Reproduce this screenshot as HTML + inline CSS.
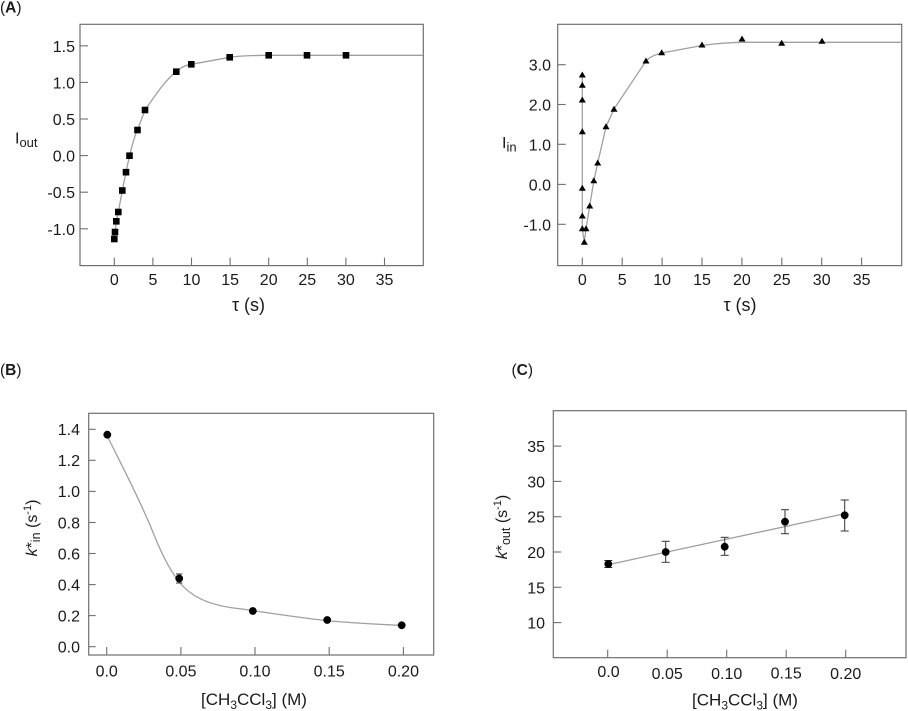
<!DOCTYPE html>
<html>
<head>
<meta charset="utf-8">
<style>
html,body{margin:0;padding:0;background:#fff;}
svg{display:block;}
text{font-family:"Liberation Sans",Arial,sans-serif;fill:#1a1a1a;}
.ax{fill:none;stroke:#6f6f6f;stroke-width:1.2;}
.tk{stroke:#6f6f6f;stroke-width:1.1;}
.fit{fill:none;stroke:#a0a0a0;stroke-width:1.3;}
.eb{stroke:#333;stroke-width:1;fill:none;}
</style>
</head>
<body>
<svg width="908" height="711" viewBox="0 0 908 711" xmlns="http://www.w3.org/2000/svg">

<!-- Panel labels -->
<text x="0" y="12.5" font-size="15.5">(<tspan font-weight="bold">A</tspan>)</text>
<text x="0" y="375" font-size="15.5">(<tspan font-weight="bold">B</tspan>)</text>
<text x="511.5" y="375" font-size="15.5">(<tspan font-weight="bold">C</tspan>)</text>

<!-- ================= Panel A left ================= -->
<rect class="ax" x="80" y="24.3" width="343.3" height="241.3"/>
<g class="tk">
  <line x1="80" y1="45.8" x2="88" y2="45.8"/>
  <line x1="80" y1="82.4" x2="88" y2="82.4"/>
  <line x1="80" y1="119" x2="88" y2="119"/>
  <line x1="80" y1="155.6" x2="88" y2="155.6"/>
  <line x1="80" y1="192.2" x2="88" y2="192.2"/>
  <line x1="80" y1="228.8" x2="88" y2="228.8"/>
  <line x1="114.3" y1="265.6" x2="114.3" y2="257.6"/>
  <line x1="152.9" y1="265.6" x2="152.9" y2="257.6"/>
  <line x1="191.5" y1="265.6" x2="191.5" y2="257.6"/>
  <line x1="230.1" y1="265.6" x2="230.1" y2="257.6"/>
  <line x1="268.7" y1="265.6" x2="268.7" y2="257.6"/>
  <line x1="307.3" y1="265.6" x2="307.3" y2="257.6"/>
  <line x1="345.9" y1="265.6" x2="345.9" y2="257.6"/>
  <line x1="384.5" y1="265.6" x2="384.5" y2="257.6"/>
</g>
<g font-size="16" text-anchor="end">
  <text x="75" y="51.8">1.5</text>
  <text x="75" y="88.4">1.0</text>
  <text x="75" y="125">0.5</text>
  <text x="75" y="161.6">0.0</text>
  <text x="75" y="198.2">-0.5</text>
  <text x="75" y="234.8">-1.0</text>
</g>
<g font-size="16" text-anchor="middle">
  <text x="114.3" y="285">0</text>
  <text x="152.9" y="285">5</text>
  <text x="191.5" y="285">10</text>
  <text x="230.1" y="285">15</text>
  <text x="268.7" y="285">20</text>
  <text x="307.3" y="285">25</text>
  <text x="345.9" y="285">30</text>
  <text x="384.5" y="285">35</text>
</g>
<text x="248.5" y="311" font-size="18" text-anchor="middle">τ (s)</text>
<text x="15" y="143.5" font-size="16">I<tspan dy="3.5" font-size="13">out</tspan></text>

<path class="fit" d="M114.3,239 L115,232 L116.3,221 L118.3,212 L122.3,190.5 L126,172 L129.5,156 C132,146 134,137 137.5,130 L145,110 C155,96 165,80 176.3,71.7 C181,67 186,65 191.3,64.3 L229.7,57.3 C240,56 250,55.5 265,55.3 L423,55.3"/>
<g fill="#000">
  <rect x="111" y="235.7" width="6.6" height="6.6"/>
  <rect x="111.7" y="228.7" width="6.6" height="6.6"/>
  <rect x="113" y="218" width="6.6" height="6.6"/>
  <rect x="115" y="208.7" width="6.6" height="6.6"/>
  <rect x="119" y="187.2" width="6.6" height="6.6"/>
  <rect x="122.7" y="168.9" width="6.6" height="6.6"/>
  <rect x="126.2" y="152.4" width="6.6" height="6.6"/>
  <rect x="134.2" y="126.7" width="6.6" height="6.6"/>
  <rect x="141.7" y="106.7" width="6.6" height="6.6"/>
  <rect x="173" y="68.4" width="6.6" height="6.6"/>
  <rect x="188" y="61" width="6.6" height="6.6"/>
  <rect x="226.4" y="54" width="6.6" height="6.6"/>
  <rect x="265.4" y="52" width="6.6" height="6.6"/>
  <rect x="303.7" y="52" width="6.6" height="6.6"/>
  <rect x="342.7" y="52" width="6.6" height="6.6"/>
</g>

<!-- ================= Panel A right ================= -->
<rect class="ax" x="557.7" y="24.3" width="344" height="241.3"/>
<g class="tk">
  <line x1="557.7" y1="64.7" x2="565.7" y2="64.7"/>
  <line x1="557.7" y1="104.5" x2="565.7" y2="104.5"/>
  <line x1="557.7" y1="144.3" x2="565.7" y2="144.3"/>
  <line x1="557.7" y1="184.4" x2="565.7" y2="184.4"/>
  <line x1="557.7" y1="224.3" x2="565.7" y2="224.3"/>
  <line x1="582.3" y1="265.6" x2="582.3" y2="257.6"/>
  <line x1="622.2" y1="265.6" x2="622.2" y2="257.6"/>
  <line x1="662.1" y1="265.6" x2="662.1" y2="257.6"/>
  <line x1="702" y1="265.6" x2="702" y2="257.6"/>
  <line x1="741.9" y1="265.6" x2="741.9" y2="257.6"/>
  <line x1="781.8" y1="265.6" x2="781.8" y2="257.6"/>
  <line x1="821.7" y1="265.6" x2="821.7" y2="257.6"/>
  <line x1="861.6" y1="265.6" x2="861.6" y2="257.6"/>
</g>
<g font-size="16" text-anchor="end">
  <text x="551" y="70.7">3.0</text>
  <text x="551" y="110.5">2.0</text>
  <text x="551" y="150.3">1.0</text>
  <text x="551" y="190.4">0.0</text>
  <text x="551" y="230.3">-1.0</text>
</g>
<g font-size="16" text-anchor="middle">
  <text x="582.3" y="285">0</text>
  <text x="622.2" y="285">5</text>
  <text x="662.1" y="285">10</text>
  <text x="702" y="285">15</text>
  <text x="741.9" y="285">20</text>
  <text x="781.8" y="285">25</text>
  <text x="821.7" y="285">30</text>
  <text x="861.6" y="285">35</text>
</g>
<text x="740" y="311" font-size="18" text-anchor="middle">τ (s)</text>
<text x="502" y="148" font-size="16">I<tspan dy="3.5" font-size="13">in</tspan></text>

<path class="fit" d="M582.3,75 L582.3,229 L584.3,242 L586,229 L589.7,206 L593.8,181 L597.7,163 L606,127 L614,109 L646,61 C649,58 652,55.5 661.7,53 L702,45.5 C712,44 725,42.6 742,42.3 L901.7,42.3"/>
<g fill="#000">
  <polygon points="582.3,71.5 578.8,77.5 585.8,77.5"/>
  <polygon points="582.3,81.8 578.8,87.8 585.8,87.8"/>
  <polygon points="582.3,96.5 578.8,102.5 585.8,102.5"/>
  <polygon points="582.3,128.2 578.8,134.2 585.8,134.2"/>
  <polygon points="582.3,184.8 578.8,190.8 585.8,190.8"/>
  <polygon points="582.3,212.5 578.8,218.5 585.8,218.5"/>
  <polygon points="582.3,225.2 578.8,231.2 585.8,231.2"/>
  <polygon points="586,225.2 582.5,231.2 589.5,231.2"/>
  <polygon points="584.3,238.7 580.8,244.7 587.8,244.7"/>
  <polygon points="589.7,202.5 586.2,208.5 593.2,208.5"/>
  <polygon points="593.8,177.2 590.3,183.2 597.3,183.2"/>
  <polygon points="597.7,159.5 594.2,165.5 601.2,165.5"/>
  <polygon points="606,123.2 602.5,129.2 609.5,129.2"/>
  <polygon points="614,105.8 610.5,111.8 617.5,111.8"/>
  <polygon points="646,57.5 642.5,63.5 649.5,63.5"/>
  <polygon points="661.7,49.2 658.2,55.2 665.2,55.2"/>
  <polygon points="702,41.5 698.5,47.5 705.5,47.5"/>
  <polygon points="742,35.5 738.5,41.5 745.5,41.5"/>
  <polygon points="781.7,39.8 778.2,45.8 785.2,45.8"/>
  <polygon points="822,37.8 818.5,43.8 825.5,43.8"/>
</g>

<!-- ================= Panel B ================= -->
<rect class="ax" x="88.7" y="413.3" width="345" height="241.7"/>
<g class="tk">
  <line x1="88.7" y1="646.7" x2="95.7" y2="646.7"/>
  <line x1="88.7" y1="615.6" x2="95.7" y2="615.6"/>
  <line x1="88.7" y1="584.6" x2="95.7" y2="584.6"/>
  <line x1="88.7" y1="553.5" x2="95.7" y2="553.5"/>
  <line x1="88.7" y1="522.5" x2="95.7" y2="522.5"/>
  <line x1="88.7" y1="491.4" x2="95.7" y2="491.4"/>
  <line x1="88.7" y1="460.3" x2="95.7" y2="460.3"/>
  <line x1="88.7" y1="429.3" x2="95.7" y2="429.3"/>
  <line x1="106.7" y1="655" x2="106.7" y2="647"/>
  <line x1="180.9" y1="655" x2="180.9" y2="647"/>
  <line x1="255" y1="655" x2="255" y2="647"/>
  <line x1="329.2" y1="655" x2="329.2" y2="647"/>
  <line x1="403.4" y1="655" x2="403.4" y2="647"/>
</g>
<g font-size="16" text-anchor="end">
  <text x="80" y="652.5">0.0</text>
  <text x="80" y="621.4">0.2</text>
  <text x="80" y="590.4">0.4</text>
  <text x="80" y="559.3">0.6</text>
  <text x="80" y="528.3">0.8</text>
  <text x="80" y="497.2">1.0</text>
  <text x="80" y="466.1">1.2</text>
  <text x="80" y="435.1">1.4</text>
</g>
<g font-size="16" text-anchor="middle">
  <text x="106.7" y="676.5">0.0</text>
  <text x="180.9" y="676.5">0.05</text>
  <text x="255" y="676.5">0.10</text>
  <text x="329.2" y="676.5">0.15</text>
  <text x="403.4" y="676.5">0.20</text>
</g>
<text x="254" y="705" font-size="17" text-anchor="middle">[CH<tspan dy="4" font-size="12">3</tspan><tspan dy="-4">CCl</tspan><tspan dy="4" font-size="12">3</tspan><tspan dy="-4">] (M)</tspan></text>
<text transform="translate(37,528) rotate(-90)" font-size="16" text-anchor="middle"><tspan font-style="italic">k</tspan>*<tspan dy="3" font-size="12.5">in</tspan><tspan dy="-3"> (s</tspan><tspan dy="-6" font-size="11">-1</tspan><tspan dy="6">)</tspan></text>

<path class="fit" d="M107.3,436 C120,462 135,490 150,525 C160,550 168,568 180,583 C192,597 208,604 230,607.5 C245,609.5 250,610 262,612 C290,616 310,619 330,621 C360,623.5 385,624.5 401.7,625.5"/>
<g class="eb">
  <line x1="179.2" y1="574" x2="179.2" y2="583"/>
  <line x1="176" y1="574" x2="182.4" y2="574"/>
  <line x1="176" y1="583" x2="182.4" y2="583"/>
</g>
<g fill="#000">
  <circle cx="107.3" cy="434.7" r="3.9"/>
  <circle cx="179.2" cy="578.5" r="3.9"/>
  <circle cx="252.8" cy="611" r="3.9"/>
  <circle cx="327.2" cy="620" r="3.9"/>
  <circle cx="401.7" cy="625.3" r="3.9"/>
</g>

<!-- ================= Panel C ================= -->
<rect class="ax" x="553.3" y="410.7" width="352.7" height="247"/>
<g class="tk">
  <line x1="553.3" y1="622.6" x2="561.3" y2="622.6"/>
  <line x1="553.3" y1="587.3" x2="561.3" y2="587.3"/>
  <line x1="553.3" y1="552" x2="561.3" y2="552"/>
  <line x1="553.3" y1="516.7" x2="561.3" y2="516.7"/>
  <line x1="553.3" y1="481.4" x2="561.3" y2="481.4"/>
  <line x1="553.3" y1="446.1" x2="561.3" y2="446.1"/>
  <line x1="607.7" y1="657.7" x2="607.7" y2="649.7"/>
  <line x1="667.2" y1="657.7" x2="667.2" y2="649.7"/>
  <line x1="726.7" y1="657.7" x2="726.7" y2="649.7"/>
  <line x1="786.2" y1="657.7" x2="786.2" y2="649.7"/>
  <line x1="845.7" y1="657.7" x2="845.7" y2="649.7"/>
</g>
<g font-size="16" text-anchor="end">
  <text x="545" y="628.6">10</text>
  <text x="545" y="593.3">15</text>
  <text x="545" y="558">20</text>
  <text x="545" y="522.7">25</text>
  <text x="545" y="487.4">30</text>
  <text x="545" y="452.1">35</text>
</g>
<g font-size="16" text-anchor="middle">
  <text x="608.5" y="677">0.0</text>
  <text x="667.2" y="679">0.05</text>
  <text x="726.7" y="679">0.10</text>
  <text x="786.2" y="678.5">0.15</text>
  <text x="845.7" y="679">0.20</text>
</g>
<text x="745" y="705.5" font-size="17" text-anchor="middle">[CH<tspan dy="4" font-size="12">3</tspan><tspan dy="-4">CCl</tspan><tspan dy="4" font-size="12">3</tspan><tspan dy="-4">] (M)</tspan></text>
<text transform="translate(507,527) rotate(-90)" font-size="16" text-anchor="middle"><tspan font-style="italic">k</tspan>*<tspan dy="3" font-size="12.5">out</tspan><tspan dy="-3"> (s</tspan><tspan dy="-6" font-size="11">-1</tspan><tspan dy="6">)</tspan></text>

<line class="fit" x1="608" y1="564.7" x2="846.7" y2="513.3"/>
<g class="eb">
  <line x1="608.3" y1="560.5" x2="608.3" y2="567.5"/>
  <line x1="604.3" y1="560.5" x2="612.3" y2="560.5"/>
  <line x1="604.3" y1="567.5" x2="612.3" y2="567.5"/>
  <line x1="665.7" y1="541.3" x2="665.7" y2="562.3"/>
  <line x1="661.7" y1="541.3" x2="669.7" y2="541.3"/>
  <line x1="661.7" y1="562.3" x2="669.7" y2="562.3"/>
  <line x1="724.7" y1="537.3" x2="724.7" y2="555.3"/>
  <line x1="720.7" y1="537.3" x2="728.7" y2="537.3"/>
  <line x1="720.7" y1="555.3" x2="728.7" y2="555.3"/>
  <line x1="785" y1="509.7" x2="785" y2="533.7"/>
  <line x1="781" y1="509.7" x2="789" y2="509.7"/>
  <line x1="781" y1="533.7" x2="789" y2="533.7"/>
  <line x1="844.7" y1="500" x2="844.7" y2="531"/>
  <line x1="840.7" y1="500" x2="848.7" y2="500"/>
  <line x1="840.7" y1="531" x2="848.7" y2="531"/>
</g>
<g fill="#000">
  <circle cx="608.3" cy="564" r="3.9"/>
  <circle cx="665.7" cy="552" r="3.9"/>
  <circle cx="724.7" cy="546.7" r="3.9"/>
  <circle cx="785" cy="521.7" r="3.9"/>
  <circle cx="844.7" cy="515.3" r="3.9"/>
</g>

</svg>
</body>
</html>
